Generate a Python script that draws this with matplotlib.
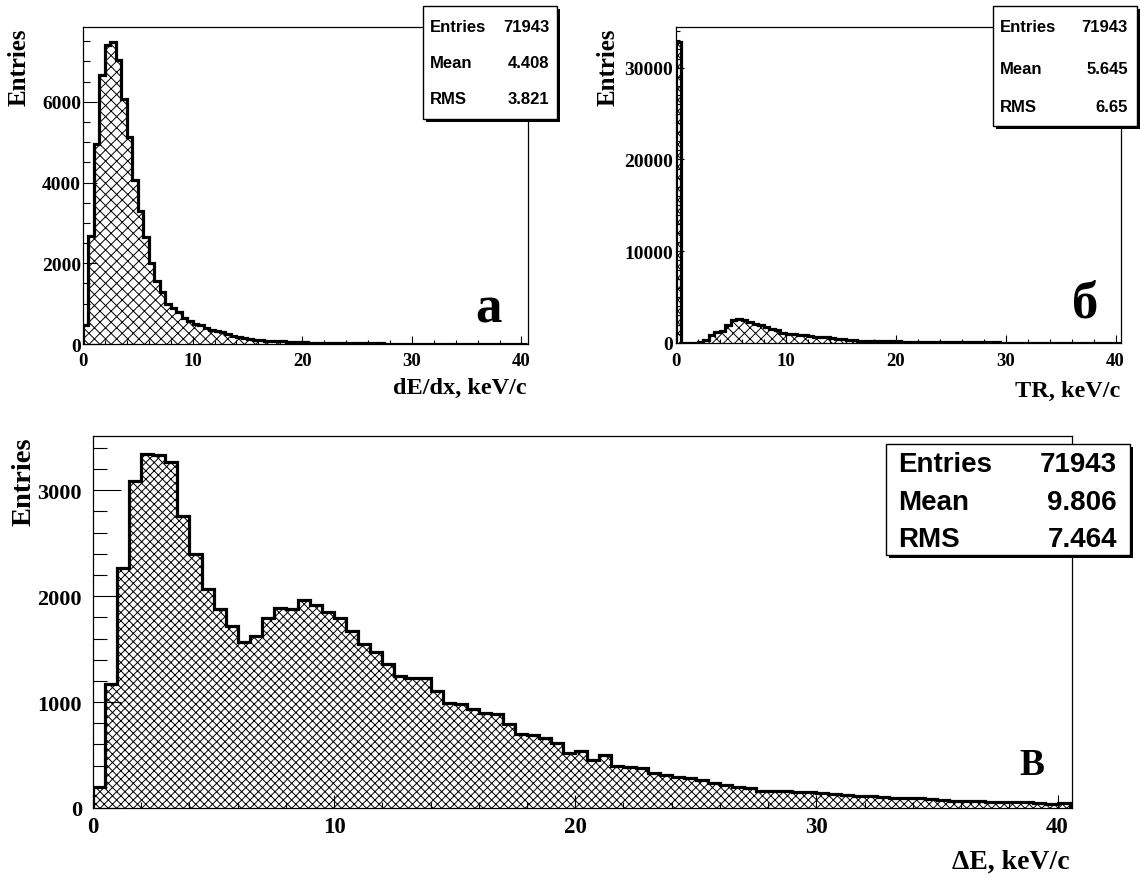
import matplotlib

matplotlib.use("Agg")
import matplotlib.pyplot as plt
import numpy as np
from matplotlib.patches import Rectangle
from matplotlib.ticker import MultipleLocator

# bin width of all three histograms, keV/c
BIN_WIDTH = 0.5

# (a) dE/dx, counts per 0.5 keV/c bin from 0 to 40.5
dedx_counts = [
    460, 2680, 4950, 6670, 7410, 7480, 7040, 6070, 5120, 4060, 3290, 2650, 2015,
    1570, 1290, 1000, 880, 800, 640, 560, 490, 460, 400, 350, 320, 290, 260, 210, 170, 145,
    125, 110, 95, 85, 78, 70, 64, 58, 52, 46,
    40, 36, 33, 30, 28, 26, 24, 22, 20, 19,
    18, 17, 15, 14, 13, 12, 12, 11, 10, 9,
    8, 8, 7, 7, 6, 6, 5, 5, 9, 5,
    4, 4, 4, 3, 3, 3, 3, 2, 2, 2, 2,
]

# (б) TR
tr_counts = [
    32800, 0, 0, 0, 130, 380, 920, 1210, 1320, 1930,
    2540, 2650, 2470, 2290, 2110, 1930, 1750, 1570, 1390, 1100,
    1030, 960, 920, 850, 780, 670, 630, 600, 560, 490,
    420, 380, 310, 270, 240, 220, 210, 200, 190, 180,
    165, 150, 140, 130, 120, 115, 105, 100, 95, 90,
    85, 80, 78, 75, 70, 66, 62, 60, 55, 40,
    10, 5, 3, 2, 2, 1, 1, 1, 0, 0,
    0, 0, 0, 0, 0, 0, 0, 0, 0, 0, 0,
]

# (В) delta E
delta_e_counts = [
    200, 1170, 2270, 3085, 3345, 3330, 3265, 2760, 2400, 2070,
    1880, 1715, 1565, 1625, 1790, 1890, 1880, 1960, 1920, 1850,
    1790, 1675, 1550, 1475, 1360, 1250, 1232, 1225, 1105, 995,
    978, 930, 900, 885, 790, 695, 685, 662, 615, 520,
    535, 455, 505, 393, 388, 378, 330, 315, 292, 282,
    267, 235, 220, 198, 188, 163, 158, 165, 155, 149,
    140, 130, 123, 118, 110, 101, 99, 95, 90, 85,
    72, 68, 63, 62, 58, 55, 53, 60, 48, 38, 44,
]

stat_names = ["Entries", "Mean", "RMS"]
dedx_stats = ["71943", "4.408", "3.821"]
tr_stats = ["71943", "5.645", "6.65"]
delta_e_stats = ["71943", "9.806", "7.464"]

x_titles = ["dE/dx, keV/c", "TR, keV/c", "\u0394E, keV/c"]
panel_letters = ["\u0430", "\u0431", "\u0412"]

W, H = 1140, 878
SERIF = ["Liberation Serif", "DejaVu Serif"]
SANS = ["Liberation Sans", "DejaVu Sans"]

plt.rcParams["font.family"] = SERIF
plt.rcParams["font.weight"] = "bold"
plt.rcParams["hatch.linewidth"] = 0.7


def fx(px):
    return px / W


def fy(py):
    return 1 - py / H


def make_axes(fig, left, top, right, bottom):
    return fig.add_axes([fx(left), fy(bottom), (right - left) / W, (bottom - top) / H])


def draw_hist(ax, counts, xmax, xmaj, xmin, ymaj, ymin, xsize, ysize,
              xlen, ylen, xpad, ypad, hatch="xxx"):
    edges = np.arange(len(counts) + 1) * BIN_WIDTH
    ax.stairs(counts, edges, fill=True, facecolor="white", edgecolor="black",
              hatch=hatch, linewidth=0)
    ax.stairs(counts, edges, color="black", linewidth=2.3)
    ax.set_xlim(0, xmax)
    ax.set_ylim(0, max(counts) * 1.05)
    ax.xaxis.set_major_locator(MultipleLocator(xmaj))
    ax.xaxis.set_minor_locator(MultipleLocator(xmin))
    ax.yaxis.set_major_locator(MultipleLocator(ymaj))
    ax.yaxis.set_minor_locator(MultipleLocator(ymin))
    ax.tick_params(axis="x", which="both", direction="in", labelsize=xsize, pad=xpad, width=0.8)
    ax.tick_params(axis="x", which="major", length=xlen)
    ax.tick_params(axis="x", which="minor", length=xlen * 0.45)
    ax.tick_params(axis="y", which="both", direction="in", labelsize=ysize, pad=ypad, width=0.8)
    ax.tick_params(axis="y", which="major", length=ylen)
    ax.tick_params(axis="y", which="minor", length=ylen * 0.5)
    for sp in ax.spines.values():
        sp.set_linewidth(0.9)


def stats_box(fig, x0, y0, x1, y1, values, size, tl, tr, rows_y):
    w = (x1 - x0) / W
    h = (y1 - y0) / H
    fig.add_artist(Rectangle((fx(x0 + 3), fy(y1 + 3)), w, h, transform=fig.transFigure,
                             facecolor="black", edgecolor="none", zorder=5))
    fig.add_artist(Rectangle((fx(x0), fy(y1)), w, h, transform=fig.transFigure,
                             facecolor="white", edgecolor="black", linewidth=1.0, zorder=6))
    for name, val, ry in zip(stat_names, values, rows_y):
        fig.text(fx(tl), fy(ry), name, ha="left", va="center", fontsize=size,
                 family=SANS, fontweight="bold", zorder=7)
        fig.text(fx(tr), fy(ry), val, ha="right", va="center", fontsize=size,
                 family=SANS, fontweight="bold", zorder=7)


fig = plt.figure(figsize=(W / 100, H / 100), dpi=100)

# (a)
ax1 = make_axes(fig, 83, 28, 528, 345)
draw_hist(ax1, dedx_counts, 40.6, 10, 2, 2000, 500, 13.5, 14, 6, 10, 5.5, 1.5)
fig.text(fx(19), fy(28), "Entries", rotation=90, ha="center", va="top", fontsize=18)
fig.text(fx(527), fy(388), x_titles[0], ha="right", va="center", fontsize=17.5)
fig.text(fx(488), fy(310), panel_letters[0], ha="center", va="center", fontsize=38)
stats_box(fig, 423, 7, 557, 120, dedx_stats, 12, 430, 549, [27, 64, 100])

# (б)
ax2 = make_axes(fig, 676, 28, 1121, 344)
draw_hist(ax2, tr_counts, 40.5, 10, 2, 10000, 1000, 13.5, 14, 6, 6, 6.5, 2)
fig.text(fx(608), fy(28), "Entries", rotation=90, ha="center", va="top", fontsize=18)
fig.text(fx(1120), fy(391), x_titles[1], ha="right", va="center", fontsize=17.5)
fig.text(fx(1085), fy(305), panel_letters[1], ha="center", va="center", fontsize=38)
stats_box(fig, 993, 7, 1137, 127, tr_stats, 12, 1000, 1128, [27, 69, 107])

# (В)
ax3 = make_axes(fig, 93, 437, 1072, 809)
draw_hist(ax3, delta_e_counts, 40.6, 10, 2, 1000, 200, 16.5, 16, 9.5, 20, 6, 8,
          hatch="xxxx")
fig.text(fx(24), fy(437), "Entries", rotation=90, ha="center", va="top", fontsize=20.5)
fig.text(fx(1070), fy(862), x_titles[2], ha="right", va="center", fontsize=20)
fig.text(fx(1032), fy(766), panel_letters[2], ha="center", va="center", fontsize=27)
stats_box(fig, 886, 445, 1130, 556, delta_e_stats, 20, 898, 1117, [465, 503, 540])

fig.savefig("out.png", dpi=100)
